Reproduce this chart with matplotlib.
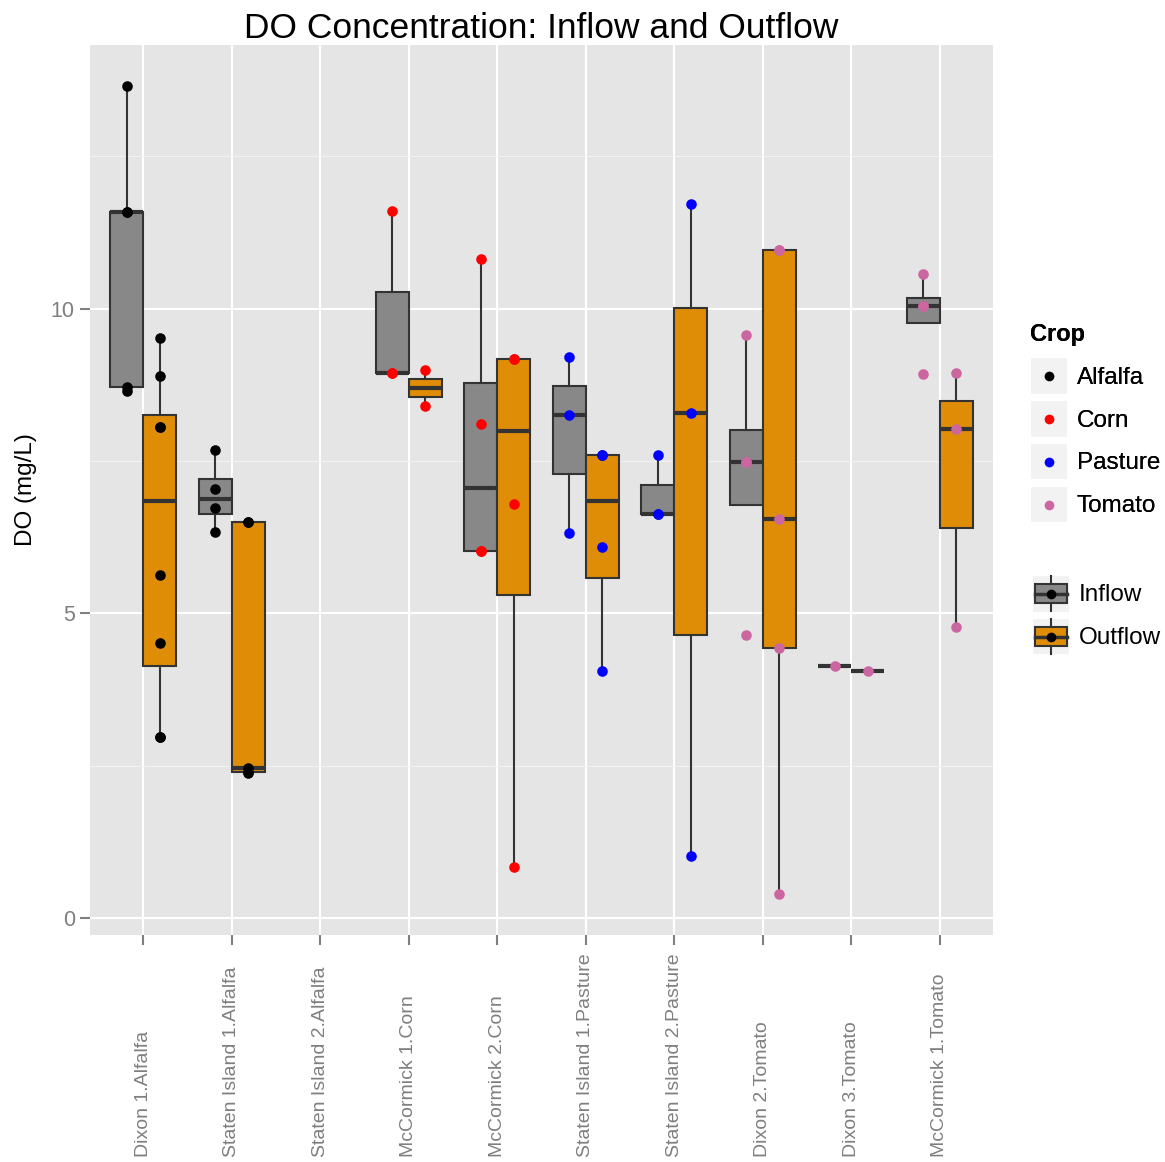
import numpy as np
import matplotlib.pyplot as plt
from matplotlib.lines import Line2D
from matplotlib.patches import Rectangle, Patch
from matplotlib.legend_handler import HandlerBase

plt.rcParams['font.family'] = ['Liberation Sans', 'DejaVu Sans']

# sites (x axis) and crop of each site
sites = ['Dixon 1.Alfalfa', 'Staten Island 1.Alfalfa', 'Staten Island 2.Alfalfa',
         'McCormick 1.Corn', 'McCormick 2.Corn', 'Staten Island 1.Pasture',
         'Staten Island 2.Pasture', 'Dixon 2.Tomato', 'Dixon 3.Tomato',
         'McCormick 1.Tomato']
site_crop = ['Alfalfa', 'Alfalfa', 'Alfalfa', 'Corn', 'Corn', 'Pasture',
             'Pasture', 'Tomato', 'Tomato', 'Tomato']

# DO readings (mg/L) per site
inflow_do = [
    [13.66, 11.58, 11.58, 8.72, 8.65],
    [7.68, 7.04, 6.72, 6.34],
    [],
    [11.61, 8.94, 8.94],
    [10.82, 8.10, 6.02, 6.02],
    [9.20, 8.26, 6.31],
    [7.59, 6.63, 6.63],
    [9.56, 7.49, 7.49, 4.64],
    [4.14],
    [10.57, 10.04, 10.04, 8.92],
]
outflow_do = [
    [9.52, 8.90, 8.05, 8.05, 5.62, 4.52, 2.97, 2.97],
    [6.50, 6.50, 2.46, 2.40, 2.38],
    [],
    [9.00, 8.41],
    [9.18, 9.18, 6.80, 0.83],
    [7.59, 7.59, 6.09, 4.05],
    [11.72, 8.29, 1.01],
    [10.97, 10.97, 6.54, 4.43, 0.39],
    [4.05],
    [8.94, 8.03, 4.78],
]

crops = ['Alfalfa', 'Corn', 'Pasture', 'Tomato']
crop_colors = {'Alfalfa': 'black', 'Corn': '#FF0000', 'Pasture': '#0000FF', 'Tomato': '#CC66A0'}
flow_labels = ['Inflow', 'Outflow']
flow_colors = ['#888888', '#DF8D07']

fig = plt.figure(figsize=(11.65, 11.62), dpi=100)
ax = fig.add_axes([0.0773, 0.1954, 0.775, 0.766])
ax.set_facecolor('#E5E5E5')

offset = 0.187
for i, (series, col) in enumerate(zip([inflow_do, outflow_do], flow_colors)):
    sign = -1 if i == 0 else 1
    idx = [k for k in range(len(sites)) if len(series[k]) > 0]
    pos = [k + 1 + sign * offset for k in idx]
    ax.boxplot([series[k] for k in idx], positions=pos, widths=2 * offset,
               patch_artist=True, showfliers=False, showcaps=False, whis=1.5,
               manage_ticks=False,
               boxprops=dict(facecolor=col, edgecolor='#333333', linewidth=1.5),
               medianprops=dict(color='#333333', linewidth=3),
               whiskerprops=dict(color='#333333', linewidth=1.5),
               zorder=3)
    for k in idx:
        vals = series[k]
        ax.scatter([k + 1 + sign * offset] * len(vals), vals, s=58,
                   color=crop_colors[site_crop[k]], zorder=4, linewidths=0)

ax.set_xlim(0.4, 10.6)
ax.set_ylim(-0.28, 14.33)
ax.set_xticks(range(1, len(sites) + 1))
ax.set_xticklabels([])
# rotated site names, bottom aligned like ggplot
for k, name in enumerate(sites):
    ax.text(k + 1, -0.2494, name, rotation=90, ha='center', va='bottom',
            fontsize=14, color='#7F7F7F', transform=ax.get_xaxis_transform())
ax.set_yticks([0, 5, 10])
ax.set_yticklabels(['0', '5', '10'], fontsize=15.5, color='#7F7F7F')
ax.set_yticks([2.5, 7.5, 12.5], minor=True)
ax.tick_params(axis='both', which='major', length=7, width=1.5, color='#7F7F7F', pad=4)
ax.tick_params(axis='y', which='minor', length=0)
ax.grid(True, which='major', color='white', linewidth=1.5, zorder=0)
ax.grid(True, which='minor', axis='y', color='#F2F2F2', linewidth=0.8, zorder=0)
ax.set_axisbelow(True)
for s in ax.spines.values():
    s.set_visible(False)

ax.set_ylabel('DO (mg/L)', fontsize=17.5, labelpad=10)
ax.set_title('DO Concentration: Inflow and Outflow', fontsize=25.5, pad=5)


class KeyHandler(HandlerBase):
    def __init__(self, dot, fill=None):
        super().__init__()
        self.dot = dot
        self.fill = fill

    def create_artists(self, legend, orig_handle, xdescent, ydescent,
                       width, height, fontsize, trans):
        x0, y0 = -xdescent, -ydescent
        cx, cy = x0 + width / 2, y0 + height / 2
        arts = [Rectangle((x0, y0), width, height, facecolor='#F2F2F2',
                          edgecolor='white', linewidth=1.5, transform=trans)]
        if self.fill is not None:
            arts.append(Line2D([cx, cx], [y0 + 1, y0 + height - 1], color='#333333',
                               linewidth=1.5, transform=trans))
            bw, bh = width * 0.84, height * 0.5
            arts.append(Rectangle((cx - bw / 2, cy - bh / 2), bw, bh, facecolor=self.fill,
                                  edgecolor='#333333', linewidth=1.5, transform=trans))
            arts.append(Line2D([cx - bw / 2, cx + bw / 2], [cy, cy], color='#333333',
                               linewidth=2.5, transform=trans))
        arts.append(Line2D([cx], [cy], marker='o', markersize=7, color=self.dot,
                           markeredgewidth=0, transform=trans))
        return arts


crop_handles = [Patch(label=c) for c in crops]
leg1 = fig.legend(handles=crop_handles, labels=crops, title='Crop',
                  handler_map={h: KeyHandler(crop_colors[c]) for h, c in zip(crop_handles, crops)},
                  loc='upper left', bbox_to_anchor=(1030 / 1165, 1 - 323 / 1162),
                  frameon=False, fontsize=17.5, title_fontproperties={'weight': 'bold', 'size': 17},
                  handlelength=1.55, handleheight=2.0, handletextpad=0.38,
                  labelspacing=0.22, borderpad=0, borderaxespad=0, alignment='left')
leg1._legend_box.sep = 8
fig.add_artist(leg1)

flow_handles = [Patch(label=f) for f in flow_labels]
leg2 = fig.legend(handles=flow_handles, labels=flow_labels,
                  handler_map={h: KeyHandler('black', c) for h, c in zip(flow_handles, flow_colors)},
                  loc='upper left', bbox_to_anchor=(1032 / 1165, 1 - 575 / 1162),
                  frameon=False, fontsize=17.5,
                  handlelength=1.55, handleheight=2.0, handletextpad=0.38,
                  labelspacing=0.22, borderpad=0, borderaxespad=0)

fig.savefig('out.png', dpi=100, facecolor='white')
